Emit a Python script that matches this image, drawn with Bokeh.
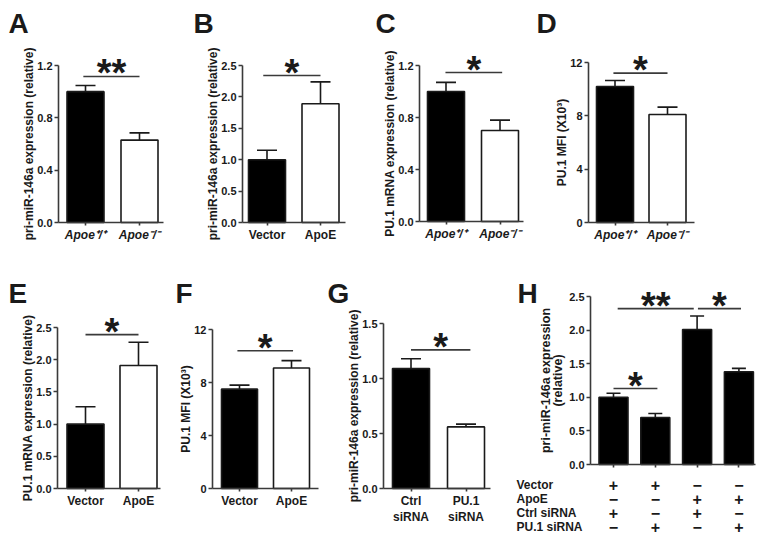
from bokeh.plotting import figure
from bokeh.layouts import row, column
from bokeh.models import Range1d, FixedTicker, PrintfTickFormatter, ColumnDataSource
from bokeh.core.properties import value
from bokeh.embed import file_html
from bokeh.resources import INLINE

FONT = "Liberation Sans"
INK = "#1a1a1a"
AXC = "#3a3a3a"

# ---------------- data ----------------
A_groups = ["Apoe⁺/⁺", "Apoe⁻/⁻"]
A_mean = [1.00, 0.63]
A_err = [0.047, 0.055]
A_sig = [(0.96, 2.0, 1.116, "**")]
A_yticks = [0.0, 0.4, 0.8, 1.2]

B_groups = ["Vector", "ApoE"]
B_mean = [1.00, 1.89]
B_err = [0.15, 0.35]
B_sig = [(0.93, 2.0, 2.34, "*")]
B_yticks = [0.0, 0.5, 1.0, 1.5, 2.0, 2.5]

C_groups = ["Apoe⁺/⁺", "Apoe⁻/⁻"]
C_mean = [1.00, 0.70]
C_err = [0.07, 0.08]
C_sig = [(0.99, 2.04, 1.146, "*")]
C_yticks = [0.0, 0.4, 0.8, 1.2]

D_groups = ["Apoe⁺/⁺", "Apoe⁻/⁻"]
D_mean = [10.2, 8.1]
D_err = [0.45, 0.55]
D_sig = [(0.97, 2.0, 11.2, "*")]
D_yticks = [0, 4, 8, 12]

E_groups = ["Vector", "ApoE"]
E_mean = [1.00, 1.91]
E_err = [0.27, 0.36]
E_sig = [(1.0, 2.0, 2.39, "*")]
E_yticks = [0.0, 0.5, 1.0, 1.5, 2.0, 2.5]

F_groups = ["Vector", "ApoE"]
F_mean = [7.5, 9.1]
F_err = [0.3, 0.55]
F_sig = [(0.96, 2.03, 10.4, "*")]
F_yticks = [0, 4, 8, 12]

G_groups = ["Ctrl\nsiRNA", "PU.1\nsiRNA"]
G_mean = [1.09, 0.56]
G_err = [0.09, 0.025]
G_sig = [(1.0, 2.08, 1.26, "*")]
G_yticks = [0.0, 0.5, 1.0, 1.5]

H_mean = [1.00, 0.70, 2.01, 1.38]
H_err = [0.06, 0.06, 0.20, 0.05]
H_sig = [(1.1, 2.92, 2.32, "**"), (3.02, 4.05, 2.32, "*"), (1.0, 2.05, 1.13, "*")]
H_yticks = [0.0, 0.5, 1.0, 1.5, 2.0, 2.5]
H_rows = ["Vector", "ApoE", "Ctrl siRNA", "PU.1 siRNA"]
H_signs = [["+", "+", "−", "−"],
           ["−", "−", "+", "+"],
           ["+", "−", "+", "−"],
           ["−", "+", "−", "+"]]

LBL_PRI = "pri-miR-146a expression (relative)"
LBL_PU1 = "PU.1 mRNA expression (relative)"
LBL_MFI = "PU.1 MFI (X10³)"
LBL_H = "pri-miR-146a expression\n(relative)"

# ---------------- layout geometry (pixels from the top-left of the page) ----------------
GEOM = {
    "A": dict(fig=(0, 0, 190, 268), axis_x=58, x_end=163, y0=222, ytop=65, c1=85, sp=54, bw=37, cap=20, letter=(8, 22.5)),
    "B": dict(fig=(190, 0, 182, 268), axis_x=242, x_end=345, y0=222, ytop=65, c1=266.5, sp=53.5, bw=37, cap=20, letter=(193, 22.5)),
    "C": dict(fig=(372, 0, 158, 268), axis_x=419, x_end=523, y0=221, ytop=65, c1=445.5, sp=54, bw=37, cap=20, letter=(375, 22.5)),
    "D": dict(fig=(530, 0, 226, 268), axis_x=588, x_end=694, y0=222, ytop=62, c1=614.5, sp=52.5, bw=37, cap=20, letter=(536, 22.5)),
    "E": dict(fig=(0, 268, 172, 269), axis_x=57, x_end=160, y0=488, ytop=327, c1=85, sp=53, bw=37, cap=20, letter=(8, 293)),
    "F": dict(fig=(172, 268, 153, 269), axis_x=212, x_end=318, y0=488, ytop=329, c1=239, sp=52, bw=36, cap=20, letter=(175, 293)),
    "G": dict(fig=(325, 268, 187, 269), axis_x=383, x_end=490, y0=488, ytop=323, c1=410.5, sp=55, bw=37, cap=20, letter=(327, 293)),
    "H": dict(fig=(512, 268, 244, 269), axis_x=590, x_end=755, y0=464, ytop=296, c1=613, sp=41.8, bw=29, cap=14, letter=(517, 293)),
}
H_ROW_Y = [484, 498, 512, 526]
H_ROW_X = 516
STAR_OFFSET = -3


def make_panel(letter, groups, mean, err, fills, yticks, yfmt, ylabel, sig,
               xlabel_style="bold", ylabel_size="12px", ylabel_standoff=-2, ylabel_lh=1.2):
    g = GEOM[letter]
    left, top, w, h = g["fig"]
    k = (g["y0"] - g["ytop"]) / yticks[-1]
    c1, sp = g["c1"], g["sp"]

    def dx(px):
        return 1 + (px - c1) / sp

    def dy(py):
        return (g["y0"] - py) / k

    p = figure(width=w, height=h, x_range=Range1d(dx(left), dx(left + w)),
               y_range=Range1d(dy(top + h), dy(top)), output_backend="svg",
               toolbar_location=None, min_border=0, title=None)
    p.outline_line_color = None
    p.xgrid.visible = False
    p.ygrid.visible = False

    n = len(mean)
    xs = list(range(1, n + 1))
    tops = [m + e for m, e in zip(mean, err)]
    cw = g["cap"] / sp
    src = ColumnDataSource(dict(x=xs, top=mean, etop=tops, fill=fills,
                                cl=[x - cw / 2 for x in xs], cr=[x + cw / 2 for x in xs]))
    p.vbar(x="x", top="top", width=g["bw"] / sp, fill_color="fill", line_color=INK,
           line_width=1.6, source=src)
    p.segment(x0="x", y0="top", x1="x", y1="etop", line_color=INK, line_width=1.6, source=src)
    p.segment(x0="cl", y0="etop", x1="cr", y1="etop", line_color=INK, line_width=1.6, source=src)

    for (x0, x1, y, s) in sig:
        p.segment(x0=[x0], y0=[y], x1=[x1], y1=[y], line_color=AXC, line_width=1.6)
        p.text(x=[(x0 + x1) / 2], y=[y], text=[s], text_align="center",
               text_baseline="middle", y_offset=STAR_OFFSET, text_font=value(FONT),
               text_font_style="bold", text_font_size="38px", text_color=INK)

    lx, ly = g["letter"]
    p.text(x=[dx(lx)], y=[dy(ly)], text=[letter], text_align="left",
           text_baseline="middle", text_font=value(FONT), text_font_style="bold",
           text_font_size="28px", text_color=INK)

    xa, ya = p.xaxis[0], p.yaxis[0]
    xa.fixed_location = 0
    ya.fixed_location = dx(g["axis_x"])
    xa.bounds = (dx(g["axis_x"]), dx(g["x_end"]))
    ya.bounds = (0, yticks[-1])
    xa.ticker = FixedTicker(ticks=xs)
    ya.ticker = FixedTicker(ticks=yticks)
    ya.formatter = PrintfTickFormatter(format=yfmt)
    if groups is not None:
        xa.major_label_overrides = {i + 1: gname for i, gname in enumerate(groups)}
    else:
        xa.major_label_overrides = {i + 1: "" for i in range(n)}
    for ax in (xa, ya):
        ax.axis_line_color = AXC
        ax.axis_line_width = 1.6
        ax.major_tick_line_color = AXC
        ax.major_tick_line_width = 1.6
        ax.major_tick_in = 0
        ax.minor_tick_line_color = None
        ax.major_label_text_font = FONT
        ax.major_label_text_color = INK
    xa.major_tick_out = 3
    ya.major_tick_out = 4
    ya.major_label_text_font_style = "bold"
    ya.major_label_text_font_size = "11px"
    ya.major_label_standoff = 2
    xa.major_label_text_font_style = xlabel_style
    xa.major_label_text_font_size = "12px"
    xa.major_label_standoff = 2
    ya.axis_label = ylabel
    ya.axis_label_text_font = FONT
    ya.axis_label_text_font_style = "bold"
    ya.axis_label_text_font_size = ylabel_size
    ya.axis_label_text_line_height = ylabel_lh
    ya.axis_label_text_color = INK
    ya.axis_label_standoff = ylabel_standoff
    return p, dx, dy


BW = ["black", "white"]
pA, _, _ = make_panel("A", A_groups, A_mean, A_err, BW, A_yticks, "%.1f", LBL_PRI, A_sig, "bold italic")
pB, _, _ = make_panel("B", B_groups, B_mean, B_err, BW, B_yticks, "%.1f", LBL_PRI, B_sig)
pC, _, _ = make_panel("C", C_groups, C_mean, C_err, BW, C_yticks, "%.1f", LBL_PU1, C_sig, "bold italic")
pD, _, _ = make_panel("D", D_groups, D_mean, D_err, BW, D_yticks, "%d", LBL_MFI, D_sig, "bold italic")
pE, _, _ = make_panel("E", E_groups, E_mean, E_err, BW, E_yticks, "%.1f", LBL_PU1, E_sig)
pF, _, _ = make_panel("F", F_groups, F_mean, F_err, BW, F_yticks, "%d", LBL_MFI, F_sig)
pG, _, _ = make_panel("G", G_groups, G_mean, G_err, BW, G_yticks, "%.1f", LBL_PRI, G_sig)
pH, hdx, hdy = make_panel("H", None, H_mean, H_err, ["black"] * 4, H_yticks, "%.1f",
                          LBL_H, H_sig, ylabel_size="12.5px", ylabel_standoff=1, ylabel_lh=0.9)

hx = list(range(1, len(H_mean) + 1))
for i, (name, signs) in enumerate(zip(H_rows, H_signs)):
    yy = hdy(H_ROW_Y[i])
    pH.text(x=[hdx(H_ROW_X)], y=[yy], text=[name], text_align="left", text_baseline="middle",
            text_font=value(FONT), text_font_style="bold", text_font_size="12px", text_color=INK)
    pH.text(x=hx, y=[yy] * len(hx), text=signs, text_align="center", text_baseline="middle",
            text_font=value(FONT), text_font_style="bold", text_font_size="16px", text_color=INK)

layout = column(row(pA, pB, pC, pD), row(pE, pF, pG, pH))
open("out.html", "w").write(file_html(layout, INLINE))
